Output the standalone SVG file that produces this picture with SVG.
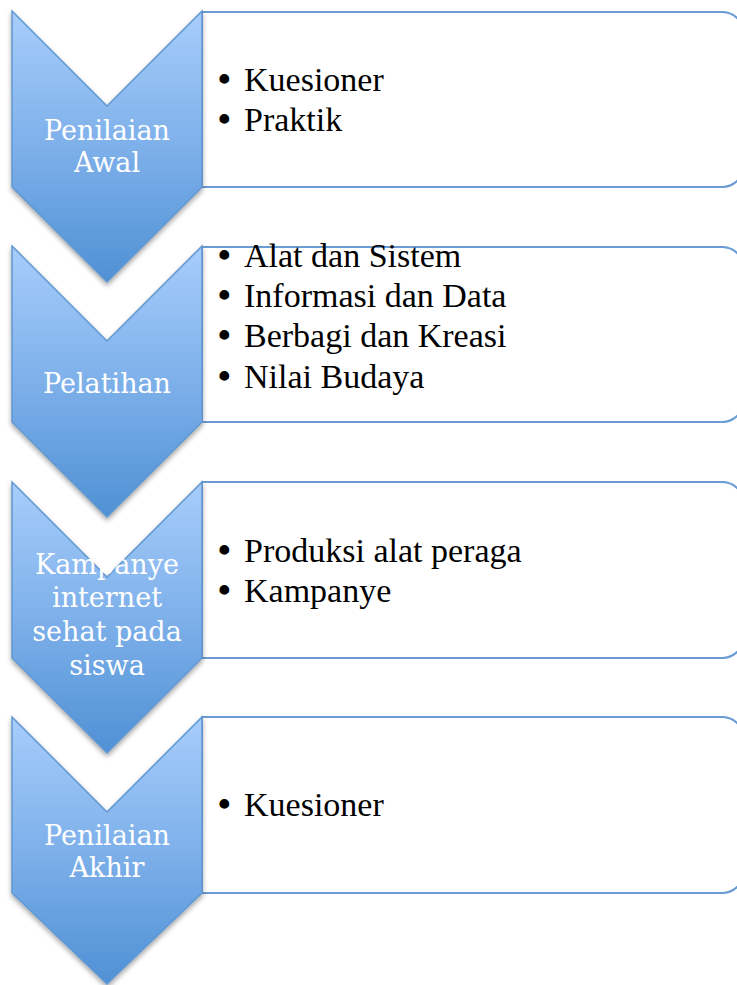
<svg xmlns="http://www.w3.org/2000/svg" width="737" height="985" viewBox="0 0 737 985">
<style>
.box{fill:#ffffff;stroke:#6a9bd3;stroke-width:2}
.chev{fill:url(#g);stroke:#6197d1;stroke-width:1.5;filter:url(#sh)}
.lbl{font-family:"DejaVu Serif","Liberation Serif",serif;font-size:27px;fill:#ffffff;text-anchor:middle}
.itm{font-family:"Liberation Serif","DejaVu Serif",serif;font-size:34px;fill:#000000}
.bul{font-size:36px;font-weight:bold}
</style>
<defs>
<linearGradient id="g" x1="0" y1="0" x2="0" y2="1">
<stop offset="0" stop-color="#a7cdfb"/>
<stop offset="0.5" stop-color="#7eb0ea"/>
<stop offset="1" stop-color="#4f91d5"/>
</linearGradient>
<filter id="sh" x="-10%" y="-10%" width="120%" height="120%">
<feDropShadow dx="0" dy="3" stdDeviation="2.5" flood-color="#000000" flood-opacity="0.35"/>
</filter>
</defs>
<rect width="737" height="985" fill="#ffffff"/>
<g id="connectors"></g>

<g id="box1">
<path class="box" d="M202,12 H722 A22,22 0 0 1 744,34 V165 A22,22 0 0 1 722,187 H202 Z"/>
<text class="itm" y="91"><tspan class="bul" x="218">•</tspan><tspan x="244">Kuesioner</tspan></text>
<text class="itm" y="131"><tspan class="bul" x="218">•</tspan><tspan x="244">Praktik</tspan></text>
</g>
<g id="step1">
<path class="chev" d="M12,11 L107,106 L202,11 L202,187 L107,282 L12,187 Z"/>
<text class="lbl" x="107" y="140">Penilaian</text>
<text class="lbl" x="107" y="172">Awal</text>
</g>

<g id="box2">
<path class="box" d="M202,247 H722 A22,22 0 0 1 744,269 V400 A22,22 0 0 1 722,422 H202 Z"/>
<text class="itm" y="267"><tspan class="bul" x="218">•</tspan><tspan x="244">Alat dan Sistem</tspan></text>
<text class="itm" y="307"><tspan class="bul" x="218">•</tspan><tspan x="244">Informasi dan Data</tspan></text>
<text class="itm" y="347"><tspan class="bul" x="218">•</tspan><tspan x="244">Berbagi dan Kreasi</tspan></text>
<text class="itm" y="388"><tspan class="bul" x="218">•</tspan><tspan x="244">Nilai Budaya</tspan></text>
</g>
<g id="step2">
<path class="chev" d="M12,246 L107,341 L202,246 L202,422 L107,517 L12,422 Z"/>
<text class="lbl" x="107" y="393">Pelatihan</text>
</g>

<g id="box3">
<path class="box" d="M202,482 H722 A22,22 0 0 1 744,504 V636 A22,22 0 0 1 722,658 H202 Z"/>
<text class="itm" y="562"><tspan class="bul" x="218">•</tspan><tspan x="244">Produksi alat peraga</tspan></text>
<text class="itm" y="602"><tspan class="bul" x="218">•</tspan><tspan x="244">Kampanye</tspan></text>
</g>
<g id="step3">
<path class="chev" d="M12,482 L107,577 L202,482 L202,658 L107,753 L12,658 Z"/>
<text class="lbl" x="107" y="574">Kampanye</text>
<text class="lbl" x="107" y="607">internet</text>
<text class="lbl" x="107" y="641">sehat pada</text>
<text class="lbl" x="107" y="675">siswa</text>
</g>

<g id="box4">
<path class="box" d="M202,717 H722 A22,22 0 0 1 744,739 V871 A22,22 0 0 1 722,893 H202 Z"/>
<text class="itm" y="816"><tspan class="bul" x="218">•</tspan><tspan x="244">Kuesioner</tspan></text>
</g>
<g id="step4">
<path class="chev" d="M12,717 L107,812 L202,717 L202,893 L107,984 L12,893 Z"/>
<text class="lbl" x="107" y="845">Penilaian</text>
<text class="lbl" x="107" y="877">Akhir</text>
</g>
</svg>
